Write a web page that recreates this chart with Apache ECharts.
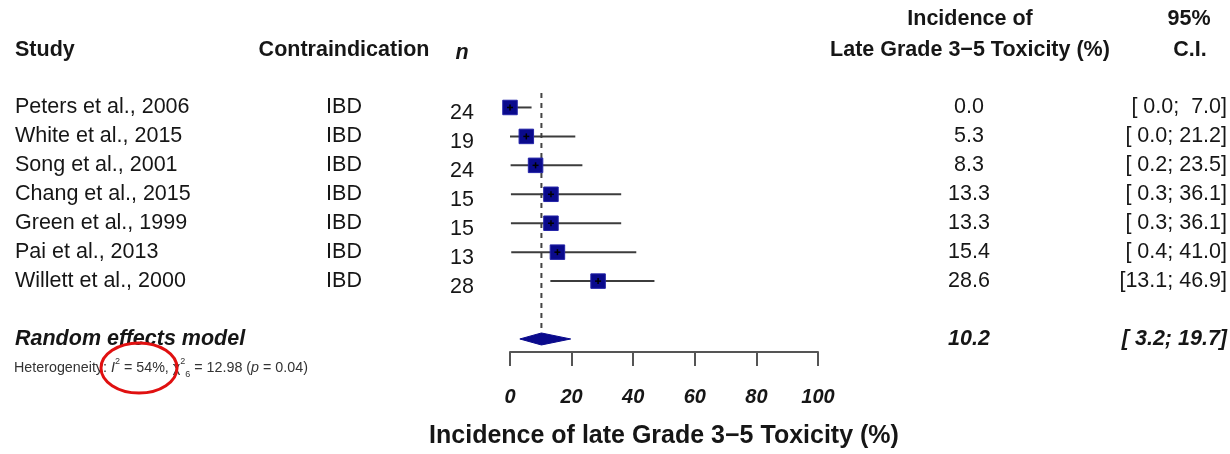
<!DOCTYPE html>
<html>
<head>
<meta charset="utf-8">
<script src="https://cdn.jsdelivr.net/npm/echarts@6/dist/echarts.min.js"></script>
<style>
  html, body { margin: 0; padding: 0; background: #fff; }
  #chart { width: 1230px; height: 454px; }
</style>
</head>
<body>
<div id="chart"></div>
<script>
// ---- data ----
const studies = ["Peters et al., 2006", "White et al., 2015", "Song et al., 2001", "Chang et al., 2015",
                 "Green et al., 1999", "Pai et al., 2013", "Willett et al., 2000"];
const contraindication = ["IBD", "IBD", "IBD", "IBD", "IBD", "IBD", "IBD"];
const sampleN = [24, 19, 24, 15, 15, 13, 28];
const incidence = [0.0, 5.3, 8.3, 13.3, 13.3, 15.4, 28.6];
const ciLower = [0.0, 0.0, 0.2, 0.3, 0.3, 0.4, 13.1];
const ciUpper = [7.0, 21.2, 23.5, 36.1, 36.1, 41.0, 46.9];
// random effects summary
const pooledEst = 10.2;
const pooledLower = 3.2;
const pooledUpper = 19.7;
// heterogeneity
const hetI2 = 54;
const hetQ = 12.98;
const hetDf = 6;
const hetP = 0.04;
const xTicks = [0, 20, 40, 60, 80, 100];

const FONT = '"Liberation Sans", Arial, Helvetica, sans-serif';
const INK = '#161616';
const NAVY = '#0a0a8c';
const FS = 21.5;

const pooledRow = studies.length + 1;   // one blank row after the studies
const hetRow = pooledRow + 1;

const chart = echarts.init(document.getElementById('chart'));

function fmt(v) { return v.toFixed(1); }
function ciText(lo, hi) { return '[' + fmt(lo).padStart(4, ' ') + '; ' + fmt(hi).padStart(4, ' ') + ']'; }

// text column drawn at a fixed x, rows placed through the y axis
function textColumn(values, rows, x, style, dy) {
  return {
    type: 'custom', silent: true, clip: false, z: 10,
    data: rows.map(r => [0, r]),
    renderItem: function (params, api) {
      const y = api.coord([0, api.value(1)])[1];
      return {
        type: 'text', x: x, y: y + (dy || 0),
        style: Object.assign({
          text: String(values[params.dataIndex]),
          fill: INK, fontFamily: FONT, fontSize: FS,
          align: 'left', verticalAlign: 'middle'
        }, style)
      };
    }
  };
}

const studyRows = studies.map((_, i) => i);

const option = {
  animation: false,
  backgroundColor: '#fff',
  grid: { left: 510, right: 412, top: 93, bottom: 96 },
  xAxis: {
    type: 'value', min: xTicks[0], max: xTicks[xTicks.length - 1], interval: 20,
    axisLine: { show: true, onZero: false, lineStyle: { color: '#555', width: 2 } },
    axisTick: { show: true, length: 14, lineStyle: { color: '#555', width: 2 } },
    axisLabel: { fontSize: 20, fontWeight: 'bold', fontStyle: 'italic', color: INK, fontFamily: FONT, margin: 35 },
    splitLine: { show: false },
    name: 'Incidence of late Grade 3\u22125 Toxicity (%)',
    nameLocation: 'middle', nameGap: 72,
    nameTextStyle: { fontSize: 25, fontWeight: 'bold', color: INK, fontFamily: FONT }
  },
  yAxis: { type: 'value', inverse: true, min: -0.5, max: 8.45, show: false },
  graphic: [
    { type: 'text', left: 15, top: 39, style: { text: 'Study', font: 'bold ' + FS + 'px ' + FONT, fill: INK } },
    { type: 'text', x: 344, y: 50, style: { text: 'Contraindication', font: 'bold ' + FS + 'px ' + FONT, fill: INK, align: 'center', verticalAlign: 'middle' } },
    { type: 'text', x: 462, y: 53, style: { text: 'n', font: 'italic bold ' + FS + 'px ' + FONT, fill: INK, align: 'center', verticalAlign: 'middle' } },
    { type: 'text', x: 970, y: 19, style: { text: 'Incidence of', font: 'bold ' + FS + 'px ' + FONT, fill: INK, align: 'center', verticalAlign: 'middle' } },
    { type: 'text', x: 970, y: 50, style: { text: 'Late Grade 3\u22125 Toxicity (%)', font: 'bold ' + FS + 'px ' + FONT, fill: INK, align: 'center', verticalAlign: 'middle' } },
    { type: 'text', x: 1189, y: 19, style: { text: '95%', font: 'bold ' + FS + 'px ' + FONT, fill: INK, align: 'center', verticalAlign: 'middle' } },
    { type: 'text', x: 1190, y: 50, style: { text: 'C.I.', font: 'bold ' + FS + 'px ' + FONT, fill: INK, align: 'center', verticalAlign: 'middle' } },
    // red hand-drawn circle over I^2
    { type: 'ellipse', shape: { cx: 139, cy: 368, rx: 38, ry: 25 }, style: { fill: 'none', stroke: '#e01010', lineWidth: 3 }, z: 100 }
  ],
  series: [
    // dashed line at the pooled estimate
    {
      type: 'line', silent: true, symbol: 'none', z: 1,
      data: [[pooledEst, -0.5], [pooledEst, pooledRow - 0.25]],
      lineStyle: { color: '#444', width: 2, type: [5, 5] }
    },
    // study whiskers + squares
    {
      type: 'custom', silent: true, clip: false, z: 3,
      data: incidence.map((v, i) => [v, i, ciLower[i], ciUpper[i]]),
      encode: { x: [0, 2, 3], y: 1 },
      renderItem: function (params, api) {
        const row = api.value(1);
        const lo = api.coord([api.value(2), row]);
        const hi = api.coord([api.value(3), row]);
        const c = api.coord([api.value(0), row]);
        const s = 14.5;
        return {
          type: 'group', children: [
            { type: 'line', shape: { x1: lo[0], y1: lo[1], x2: hi[0], y2: hi[1] }, style: { stroke: '#3c3c3c', lineWidth: 2 } },
            { type: 'rect', shape: { x: c[0] - s / 2, y: c[1] - s / 2, width: s, height: s }, style: { fill: NAVY, stroke: '#2323a8', lineWidth: 1 } },
            { type: 'line', shape: { x1: c[0] - 3, y1: c[1], x2: c[0] + 3, y2: c[1] }, style: { stroke: '#000', lineWidth: 1.5 } },
            { type: 'line', shape: { x1: c[0], y1: c[1] - 3, x2: c[0], y2: c[1] + 3 }, style: { stroke: '#000', lineWidth: 1.5 } }
          ]
        };
      }
    },
    // pooled diamond
    {
      type: 'custom', silent: true, clip: false, z: 3,
      data: [[pooledEst, pooledRow, pooledLower, pooledUpper]],
      encode: { x: [0, 2, 3], y: 1 },
      renderItem: function (params, api) {
        const row = api.value(1);
        const lo = api.coord([api.value(2), row]);
        const hi = api.coord([api.value(3), row]);
        const c = api.coord([api.value(0), row]);
        return {
          type: 'polygon',
          shape: { points: [[lo[0], lo[1]], [c[0], c[1] - 6], [hi[0], hi[1]], [c[0], c[1] + 6]] },
          style: { fill: NAVY, stroke: NAVY, lineWidth: 1 }
        };
      }
    },
    textColumn(studies, studyRows, 15, {}),
    textColumn(contraindication, studyRows, 344, { align: 'center' }),
    textColumn(sampleN, studyRows, 462, { align: 'center' }, 6),
    textColumn(incidence.map(fmt), studyRows, 969, { align: 'center' }),
    textColumn(incidence.map((v, i) => ciText(ciLower[i], ciUpper[i])), studyRows, 1227, { align: 'right' }),
    textColumn(['Random effects model'], [pooledRow], 15, { fontWeight: 'bold', fontStyle: 'italic' }),
    textColumn([fmt(pooledEst)], [pooledRow], 969, { align: 'center', fontWeight: 'bold', fontStyle: 'italic' }),
    textColumn([ciText(pooledLower, pooledUpper)], [pooledRow], 1227, { align: 'right', fontWeight: 'bold', fontStyle: 'italic' }),
    // heterogeneity line (rich text with super/subscripts)
    {
      type: 'custom', silent: true, clip: false, z: 10,
      data: [[0, hetRow]],
      renderItem: function (params, api) {
        const y = api.coord([0, api.value(1)])[1];
        return {
          type: 'text', x: 14, y: y,
          style: {
            text: '{n|Heterogeneity: }{it|I}{sup|2}{n| = ' + hetI2 + '%, \u03C7}{sup|2}{sub|' + hetDf + '}{n| = ' + hetQ.toFixed(2) + ' (}{it|p}{n| = ' + hetP.toFixed(2) + ')}',
            verticalAlign: 'middle', align: 'left',
            rich: {
              n: { fontSize: 14.3, fontFamily: FONT, fill: '#333', color: '#333' },
              it: { fontSize: 14.3, fontFamily: FONT, fontStyle: 'italic', fill: '#333', color: '#333' },
              sup: { fontSize: 9, fontFamily: FONT, fill: '#333', color: '#333', verticalAlign: 'top', lineHeight: 22 },
              sub: { fontSize: 9, fontFamily: FONT, fill: '#333', color: '#333', verticalAlign: 'bottom', lineHeight: 14 }
            }
          }
        };
      }
    }
  ]
};

chart.setOption(option);
window.addEventListener('resize', function () { chart.resize(); });
</script>
</body>
</html>
